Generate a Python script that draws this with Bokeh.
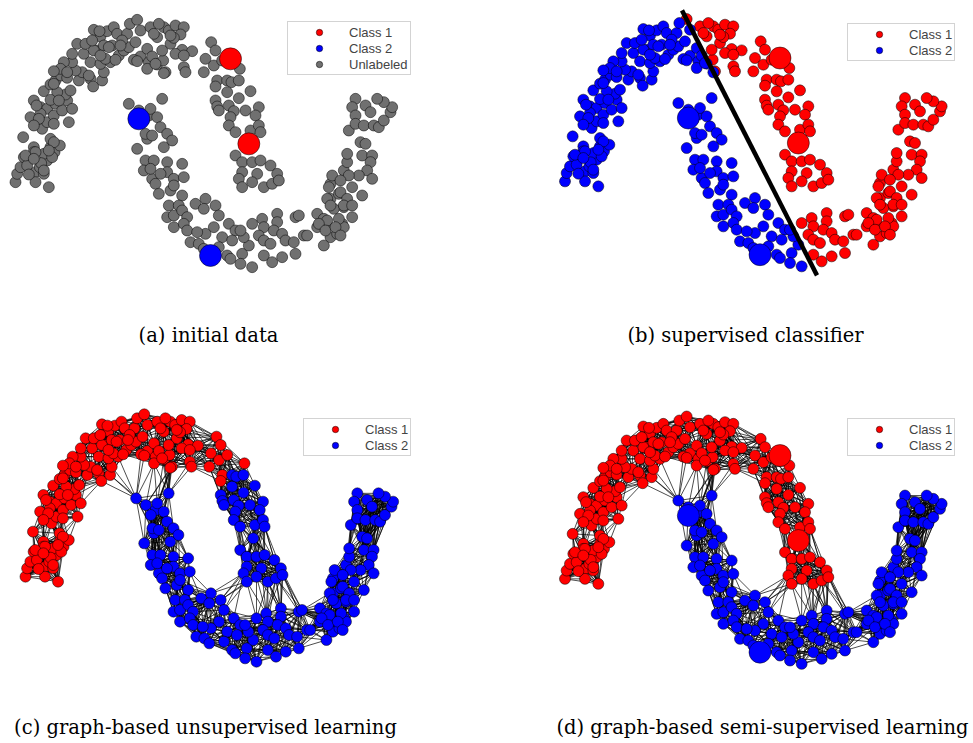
import numpy as np
from bokeh.plotting import figure
from bokeh.layouts import column, row
from bokeh.models import Range1d, Legend, LegendItem
from bokeh.core.properties import value
from bokeh.embed import file_html
from bokeh.resources import INLINE

# ---------------- data (units, y grows downward) ----------------
moon1_arc = [(45,545),(50,520),(60,500),(70,470),(68,410),(100,440),(95,470),(105,515),(105,545),(130,520),
             (145,560),(140,480),(130,460),(150,440),(162,455),(178,435),(150,415),(118,500),(80,495),(85,522),
             (122,488),(100,455),(155,470),(105,455),(160,425),(145,450),(75,465),(100,475),(130,510),
             (90,350),(100,300),(120,320),(115,372),(125,385),(140,365),(140,325),(160,345),(165,310),(178,290),
             (185,330),(200,300),(205,365),(215,325),(195,282),(130,272),(150,252),(165,240),(182,225),(170,275),
             (210,270),(200,232),(235,240),(245,215),(225,210),(215,185),(190,185),(180,205),(160,212),(150,298),
             (120,340),(108,315),(200,215),(160,250),(175,300),(115,355),(100,375),(160,370),(215,160),
             (230,130),(250,160),(270,185),(255,130),(270,235),(278,258),(265,225),(305,240),(310,215),(300,190),
             (290,150),(300,108),(320,92),(340,80),(350,100),(335,135),(355,165),(330,185),(315,175),(345,178),
             (370,150),(385,140),(380,100),(388,70),(410,58),(420,90),(405,125),(420,168),(400,178),(440,145),
             (445,185),(455,168),(470,192),(488,180),(495,215),(470,110),(490,80),(450,80),(460,100),(505,90),
             (510,130),(525,75),(550,80),(540,102),(520,112),(545,148),(550,200),(555,215),(525,160),(575,152),
             (485,150),(440,205),(490,218),(365,120),(280,88),(297,92),(280,150),(310,135),(275,120),(325,140),
             (360,135),(300,165),(475,70),(510,105),(550,165),(465,190),(410,182)]
moon1_bend = [(632,125),(645,150),(615,175),(610,215),(640,195),(718,205),(650,240),(645,258),(665,180)]
moon1_tail = [(680,240),(693,245),(715,240),(680,275),(715,293),(750,272),(645,300),(650,318),(655,330),(685,315),
              (700,332),(735,330),(775,320),(765,345),(690,350),(685,375),(705,395),(750,390),(775,375),(780,395),
              (705,465),(725,485),(755,485),(780,480),(810,495),(725,515),(770,520),(715,535),(725,560),(755,545),
              (790,560),(815,550),(830,520),(835,540),(745,430)]
moon2 = [(385,310),(415,330),(445,345),(450,325),(485,295),(470,350),(480,380),(500,400),(515,420),(490,440),
         (440,415),(435,400),(410,445),(430,360),(455,405),
         (435,480),(460,480),(430,510),(455,535),(465,550),(500,485),(500,515),(520,535),(545,490),(550,530),
         (475,580),(510,570),(520,555),(545,585),(505,615),(535,615),(500,650),(520,645),(545,630),(560,650),
         (520,680),(550,670),(560,690),(585,610),(615,595),(645,615),(610,625),(655,645),(640,680),(685,670),
         (705,690),(665,710),(615,700),(590,695),(570,725),(595,730),(695,720),(450,505),(480,520),
         (680,765),(690,775),(725,760),(720,790),(755,800),(745,735),(730,710),(720,690),(755,670),(785,655),
         (790,680),(775,705),(790,720),(830,640),(830,665),(820,690),(845,700),(855,720),(810,730),(790,765),
         (815,785),(845,770),(885,760),(880,725),(910,705),(885,650),(895,645),(950,640),(970,655),(950,680),
         (980,675),(990,710),(970,735),(1010,700),(1025,670),(1030,620),(1000,625),(920,705),(655,740),(610,745),
         (990,595),(1015,580),(990,550),(995,525),(1030,510),(1040,485),(1065,295),(1055,320),(1095,315),(1110,335),
         (1065,345),(1045,390),(1065,370),(1090,375),(1120,375),(1135,380),(1150,360),(1170,335),(1175,320),(1150,305),
         (1130,295),(1080,425),(1095,430),(1040,460),(1085,465),(1115,465),(1110,485),(1100,510),(1115,535),(1075,525),
         (1045,525),(1020,540),(985,560),(1055,560),(1020,575),(1085,585),(1040,595),(980,595),(990,615),(1030,615),
         (1055,615),(1055,650),(1030,680),(1015,655),(980,660),(955,670),(975,690),(1005,680),(1020,705)]

labeled_x = [690, 745, 415, 630]
labeled_y = [175, 430, 355, 765]
labeled_class = [1, 1, 2, 2]

boundary_x = [396, 801]
boundary_y = [32, 827]

unsup_class = {"arc": 1, "bend": 1, "tail": 2, "moon2": 2}
semi_class = {"arc": 1, "bend": 1, "tail": 1, "moon2": 2}

captions = ["(a) initial data", "(b) supervised classifier",
            "(c) graph-based unsupervised learning", "(d) graph-based semi-supervised learning"]
legend_labels = ["Class 1", "Class 2", "Unlabeled"]

# ---------------- assembling ----------------
segments = {"arc": moon1_arc, "bend": moon1_bend, "tail": moon1_tail, "moon2": moon2}
seg_names = []
pts = []
for name, lst in segments.items():
    for p_ in lst:
        pts.append(p_)
        seg_names.append(name)
pts = np.array(pts, dtype=float)
X, Y = pts[:, 0], pts[:, 1]
seg_names = np.array(seg_names)
lx = np.array(labeled_x, float)
ly = np.array(labeled_y, float)
lc = np.array(labeled_class)

RED = "#ff0000"
BLUE = "#0000ff"
GRAY = "#707070"
SIZE = 11
BIG = 22

# kNN graph
D = np.hypot(X[:, None] - X[None, :], Y[:, None] - Y[None, :])
np.fill_diagonal(D, np.inf)
K = 18
nn = np.argsort(D, axis=1)[:, :K]
edges = sorted({(min(i, j), max(i, j)) for i in range(len(X)) for j in nn[i]})
e0 = np.array([e[0] for e in edges])
e1 = np.array([e[1] for e in edges])


def make_fig(W, H, offx, offy, kx, ky):
    p = figure(width=W, height=H,
               x_range=Range1d((0 - offx) / kx, (W - offx) / kx),
               y_range=Range1d((H - offy) / ky, (0 - offy) / ky),
               output_backend="svg", toolbar_location=None,
               x_axis_type=None, y_axis_type=None, min_border=0,
               outline_line_color=None, background_fill_color="white",
               border_fill_color="white")
    p._tr = (offx, offy, kx, ky)
    return p


def caption(p, text, px, py):
    offx, offy, kx, ky = p._tr
    p.text(x=[(px - offx) / kx], y=[(py - offy) / ky], text=[text],
           text_font=value("DejaVu Serif"), text_font_size="19.5px",
           text_align="center", text_baseline="middle", text_color="black")


def legend(p, items, loc):
    leg = Legend(items=items, location=loc, border_line_color="#a8a8a8", border_line_width=1,
                 label_text_font="Liberation Sans", label_text_font_size="13px",
                 glyph_width=58, glyph_height=16, label_height=16, spacing=0,
                 padding=2, margin=0, label_standoff=1,
                 background_fill_color="white", background_fill_alpha=1)
    p.add_layout(leg, "center")


def pts_scatter(p, mask, color, size=SIZE, xs=None, ys=None):
    xs = X if xs is None else xs
    ys = Y if ys is None else ys
    return p.scatter(xs[mask], ys[mask], size=size, fill_color=color,
                     line_color="black", line_width=0.5)


def draw_edges(p):
    p.segment(x0=X[e0], y0=Y[e0], x1=X[e1], y1=Y[e1], line_color="black",
              line_width=0.7, line_alpha=1.0)


# (a) initial data
pa = make_fig(486, 372, 0.0, 0.0, 1 / 3, 1 / 3)
r_unl = pts_scatter(pa, np.ones(len(X), bool), GRAY)
r_c1 = pts_scatter(pa, lc == 1, RED, BIG, lx, ly)
r_c2 = pts_scatter(pa, lc == 2, BLUE, BIG, lx, ly)
legend(pa, [LegendItem(label=legend_labels[0], renderers=[r_c1]),
            LegendItem(label=legend_labels[1], renderers=[r_c2]),
            LegendItem(label=legend_labels[2], renderers=[r_unl])], (287, 297))
caption(pa, captions[0], 208, 335)

# (b) supervised classifier
pb = make_fig(487, 372, 63.5, -0.8, 1 / 3, 1 / 3)
bx0, bx1 = boundary_x
by0, by1 = boundary_y
side = (X - bx0) * (by1 - by0) - (Y - by0) * (bx1 - bx0)
cls_b = np.where(side > 0, 1, 2)
rb1 = pts_scatter(pb, cls_b == 1, RED)
rb2 = pts_scatter(pb, cls_b == 2, BLUE)
pts_scatter(pb, lc == 1, RED, BIG, lx, ly)
pts_scatter(pb, lc == 2, BLUE, BIG, lx, ly)
pb.line(boundary_x, boundary_y, line_color="black", line_width=4.5)
legend(pb, [LegendItem(label=legend_labels[0], renderers=[rb1]),
            LegendItem(label=legend_labels[1], renderers=[rb2])], (361, 311))
caption(pb, captions[1], 259, 335)

# (c) graph-based unsupervised
pc = make_fig(486, 371, 10.36, 22.5, 0.976 / 3, 1 / 3)
draw_edges(pc)
cls_c = np.array([unsup_class[s] for s in seg_names])
rc1 = pts_scatter(pc, cls_c == 1, RED)
rc2 = pts_scatter(pc, cls_c == 2, BLUE)
legend(pc, [LegendItem(label=legend_labels[0], renderers=[rc1]),
            LegendItem(label=legend_labels[1], renderers=[rc2])], (303, 287))
caption(pc, captions[2], 205, 355)

# (d) graph-based semi-supervised
pd_ = make_fig(487, 371, 63.5, 24.7, 1 / 3, 1 / 3)
draw_edges(pd_)
cls_d = np.array([semi_class[s] for s in seg_names])
rd1 = pts_scatter(pd_, cls_d == 1, RED)
rd2 = pts_scatter(pd_, cls_d == 2, BLUE)
pts_scatter(pd_, lc == 1, RED, BIG, lx, ly)
pts_scatter(pd_, lc == 2, BLUE, BIG, lx, ly)
legend(pd_, [LegendItem(label=legend_labels[0], renderers=[rd1]),
             LegendItem(label=legend_labels[1], renderers=[rd2])], (361, 287))
caption(pd_, captions[3], 276, 355)

layout = column(row(pa, pb), row(pc, pd_))
open("out.html", "w").write(file_html(layout, INLINE))
